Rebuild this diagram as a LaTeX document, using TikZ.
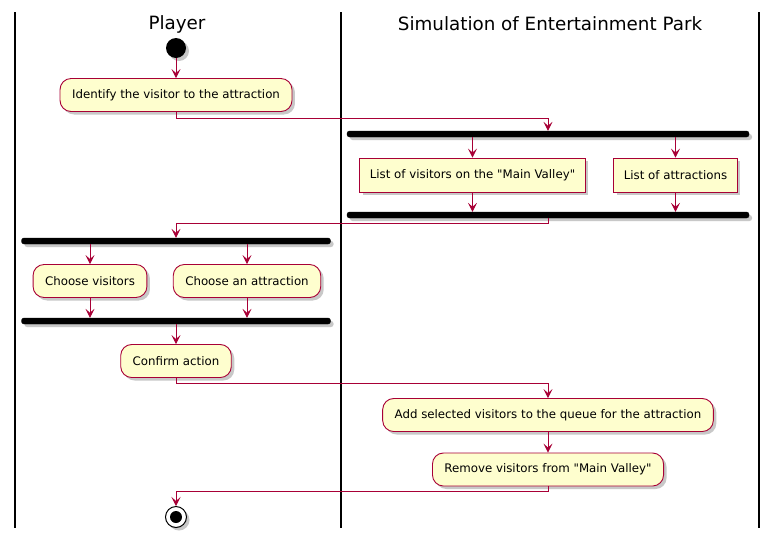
\documentclass[tikz,border=0pt]{standalone}
\usepackage{fontspec}
\setmainfont{DejaVu Sans}[Ligatures=TeXOff]
\usetikzlibrary{arrows.meta,shadows,calc}
\definecolor{pline}{HTML}{A80036}
\definecolor{pfill}{HTML}{FEFECE}
\tikzset{
  shad/.style={drop shadow={shadow xshift=3pt,shadow yshift=-3pt,opacity=0.3,fill=black!70}},
  act/.style={draw=pline,fill=pfill,line width=0.9pt,rounded corners=11pt,minimum height=33pt,inner xsep=12pt,font=\fontsize{11.8}{14}\selectfont,shad},
  plain/.style={draw=pline,fill=pfill,line width=0.9pt,minimum height=34pt,inner xsep=10pt,font=\fontsize{11.8}{14}\selectfont,shad},
  forkbar/.style={draw=black,fill=black,rounded corners=2.5pt,minimum height=6pt,inner sep=0pt,shad},
  flow/.style={draw=pline,line width=0.9pt,-{Stealth[length=9pt,width=9pt,inset=4pt]}},
  lane/.style={draw=black,line width=1.5pt},
  title/.style={font=\fontsize{18.3}{21}\selectfont}
}
\begin{document}
\begin{tikzpicture}[x=1pt,y=-1pt]
\useasboundingbox (0,0) rectangle (778,544);
\fill[white] (0,0) rectangle (778,544);
% lanes
\draw[lane] (15,12) -- (15,528);
\draw[lane] (341,12) -- (341,528);
\draw[lane] (759,12) -- (759,528);
\node[title] (t1) at (177,24) {Player};
\node[title] (t2) at (550,24) {Simulation of Entertainment Park};
% nodes
\node[circle,fill=black,minimum size=20pt,inner sep=0pt,shad] (start) at (176,48) {};
\node[act] (a1) at (176,95) {Identify the visitor to the attraction};
\node[forkbar,minimum width=402pt] (bar1) at (548,134) {};
\node[plain] (l1) at (472.5,175) {List of visitors on the "Main Valley"};
\node[plain] (l2) at (675.5,175) {List of attractions};
\node[forkbar,minimum width=402pt] (bar2) at (548,215) {};
\node[forkbar,minimum width=309pt] (bar3) at (176,241) {};
\node[act] (c1) at (90,281) {Choose visitors};
\node[act] (c2) at (247,281) {Choose an attraction};
\node[forkbar,minimum width=309pt] (bar4) at (176,321) {};
\node[act] (conf) at (176,361) {Confirm action};
\node[act] (add) at (548,415) {Add selected visitors to the queue for the attraction};
\node[act] (rem) at (548,469.5) {Remove visitors from "Main Valley"};
\node[circle,draw=black,fill=white,line width=1pt,minimum size=21pt,inner sep=0pt,shad] (end) at (176,517) {};
\node[circle,fill=black,minimum size=12pt,inner sep=0pt] (endin) at (end) {};
% connectors
\draw[flow] (start) -- (a1);
\draw[flow] (a1.south) -- ++(0,6) -| (bar1.north);
\draw[flow] (bar1.south -| l1.north) -- (l1.north);
\draw[flow] (bar1.south -| l2.north) -- (l2.north);
\draw[flow] (l1.south) -- (l1.south |- bar2.north);
\draw[flow] (l2.south) -- (l2.south |- bar2.north);
\draw[flow] (bar2.south) -- ++(0,5) -| (bar3.north);
\draw[flow] (bar3.south -| c1.north) -- (c1.north);
\draw[flow] (bar3.south -| c2.north) -- (c2.north);
\draw[flow] (c1.south) -- (c1.south |- bar4.north);
\draw[flow] (c2.south) -- (c2.south |- bar4.north);
\draw[flow] (bar4.south) -- (conf.north);
\draw[flow] (conf.south) -- ++(0,5) -| (add.north);
\draw[flow] (add.south) -- (rem.north);
\draw[flow] (rem.south) -- ++(0,5) -| (end.north);
\end{tikzpicture}
\end{document}
